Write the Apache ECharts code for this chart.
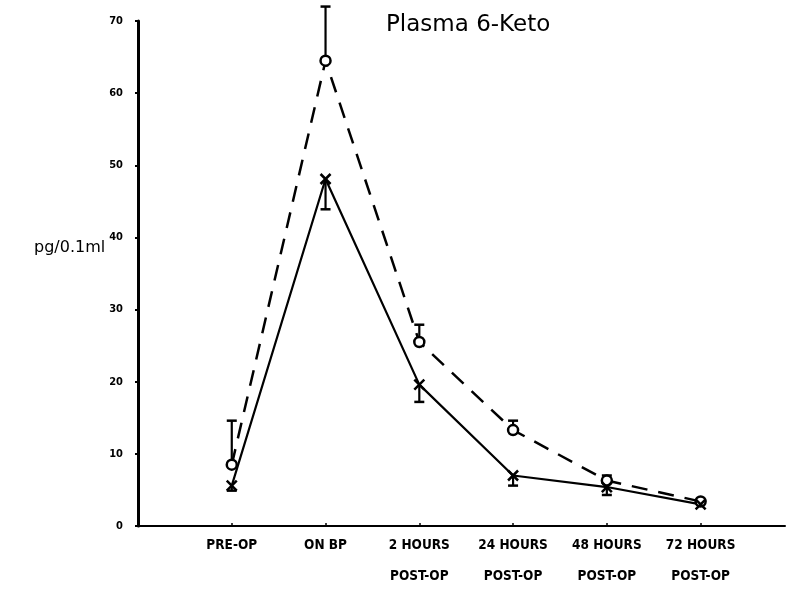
<!DOCTYPE html>
<html>
<head>
<meta charset="utf-8">
<script src="https://cdn.jsdelivr.net/npm/echarts@6/dist/echarts.min.js"></script>
<style>html,body{margin:0;padding:0;background:#fff;}#c{width:800px;height:592px;}</style>
</head>
<body>
<div id="c"></div>
<script>
var categories = ['PRE-OP', 'ON BP', '2 HOURS\nPOST-OP', '24 HOURS\nPOST-OP', '48 HOURS\nPOST-OP', '72 HOURS\nPOST-OP'];
var dashedValues = [8.5, 64.5, 25.5, 13.3, 6.3, 3.4];
var dashedUpper = [14.6, 72.0, 27.9, 14.6, 7.0, null];
var solidValues = [5.6, 48.1, 19.6, 7.0, 5.4, 3.0];
var solidLower = [4.9, 43.9, 17.2, 5.6, 4.3, null];
var yTicks = [0, 10, 20, 30, 40, 50, 60, 70];

var chart = echarts.init(document.getElementById('c'));
function pts(vals){ return vals.map(function(v,i){ return [i+1, v]; }); }
function errData(vals, ends){ return vals.map(function(v,i){ return [i+1, v, ends[i]]; }); }

function errRender(kind){
  return function(params, api){
    var x = api.value(0), v = api.value(1), e = api.value(2);
    var p = api.coord([x, v]);
    var children = [];
    var st = {stroke:'#000', lineWidth:2.2, fill:'none'};
    if (e !== null && e !== undefined && !isNaN(e)) {
      var q = api.coord([x, e]);
      children.push({type:'line', shape:{x1:p[0], y1:p[1], x2:q[0], y2:q[1]}, style:st});
      children.push({type:'line', shape:{x1:q[0]-5, y1:q[1], x2:q[0]+5, y2:q[1]}, style:{stroke:'#000', lineWidth:2.5}});
    }
    if (kind === 'circle') {
      children.push({type:'circle', shape:{cx:p[0], cy:p[1], r:5}, style:{stroke:'#000', lineWidth:2.5, fill:'#fff'}});
    } else {
      children.push({type:'line', shape:{x1:p[0]-5, y1:p[1]-5, x2:p[0]+5, y2:p[1]+5}, style:{stroke:'#000', lineWidth:2.5}});
      children.push({type:'line', shape:{x1:p[0]+5, y1:p[1]-5, x2:p[0]-5, y2:p[1]+5}, style:{stroke:'#000', lineWidth:2.5}});
    }
    return {type:'group', children:children};
  };
}

var option = {
  backgroundColor:'#fff',
  animation:false,
  title:{text:'Plasma 6-Keto', left:381, top:9, textStyle:{fontFamily:'DejaVu Sans', fontWeight:'normal', fontSize:23, color:'#000'}},
  graphic:[{type:'text', left:34, top:240, style:{text:'pg/0.1ml', font:'16px "DejaVu Sans"', fill:'#000'}}],
  grid:{left:138, right:15, top:21, bottom:52},
  xAxis:{
    type:'value', min:0, max:6.9, interval:1,
    axisLine:{show:true, onZero:false, lineStyle:{color:'#000', width:2}},
    axisTick:{show:true, inside:true, length:3, lineStyle:{color:'#000', width:1.5}},
    splitLine:{show:false},
    axisLabel:{
      show:true, margin:4, showMaxLabel:false,
      fontFamily:'DejaVu Sans Condensed', fontWeight:'bold', fontSize:13.5, color:'#000', lineHeight:31,
      formatter:function(v){ var i = Math.round(v); return (Math.abs(v-i)<1e-6 && i>=1 && i<=categories.length) ? categories[i-1] : ''; }
    }
  },
  yAxis:{
    type:'value', min:0, max:70, interval:10,
    axisLine:{show:true, lineStyle:{color:'#000', width:3}},
    axisTick:{show:true, length:3, lineStyle:{color:'#000', width:2}},
    splitLine:{show:false},
    axisLabel:{margin:15, fontFamily:'DejaVu Sans Condensed', fontWeight:'bold', fontSize:11, color:'#000',
      formatter:function(v){ return yTicks.indexOf(v) >= 0 ? String(v) : ''; }}
  },
  series:[
    {type:'line', data:pts(dashedValues), symbol:'none', lineStyle:{color:'#000', width:2.5, type:[16,11]}, clip:false, z:2},
    {type:'line', data:pts(solidValues), symbol:'none', lineStyle:{color:'#000', width:2.2}, clip:false, z:2},
    {type:'custom', data:errData(dashedValues, dashedUpper), renderItem:errRender('circle'), clip:false, z:3, encode:{x:0, y:1}},
    {type:'custom', data:errData(solidValues, solidLower), renderItem:errRender('cross'), clip:false, z:3, encode:{x:0, y:1}}
  ]
};
chart.setOption(option);
</script>
</body>
</html>
